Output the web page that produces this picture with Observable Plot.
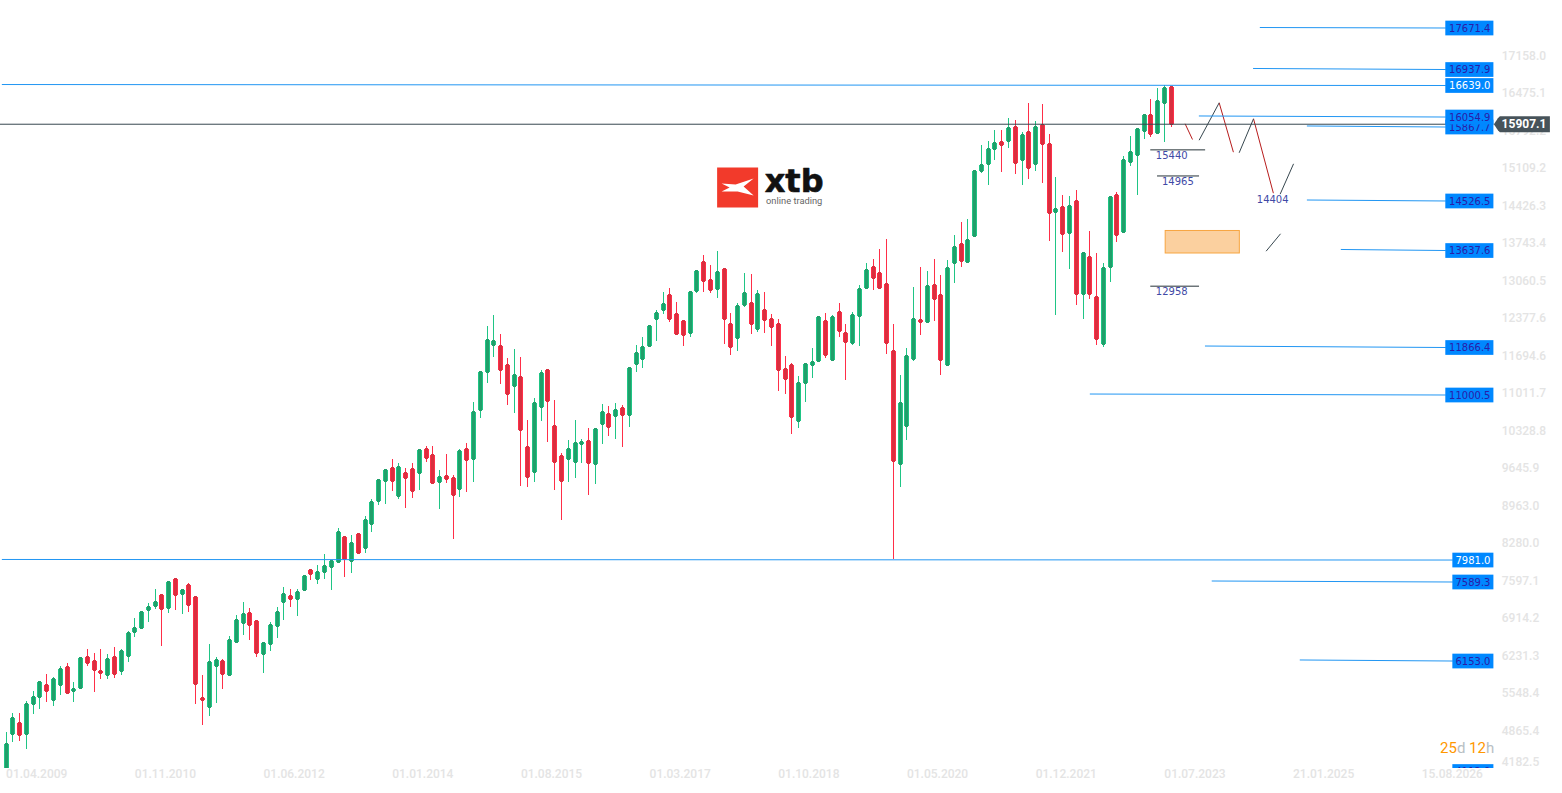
<!DOCTYPE html>
<html>
<head>
<meta charset="utf-8">
<style>
html,body{margin:0;padding:0;background:#fff;overflow:hidden}
svg{display:block}
</style>
<script src="https://cdn.jsdelivr.net/npm/d3@7"></script>
<script src="https://cdn.jsdelivr.net/npm/@observablehq/plot@0.6"></script>
</head>
<body>
<script>
const open = [4085,4800,4988,4800,5334,5462,5680,5407,5680,6008,5571,5625,6190,6117,5935,5862,6190,5935,6208,6645,6718,7046,7119,7319,7082,7610,7337,7501,7283,5443,5279,6026,6117,5862,6463,6809,6991,6846,6245,6427,6755,7191,7301,7246,7410,7774,7610,7738,7829,7920,8375,7938,8430,8175,8612,9031,9395,9632,9122,9541,9613,9541,9978,9868,9377,9486,9450,9249,9978,9795,10688,11380,11871,11853,11507,11125,11289,10014,9559,10742,11416,10396,9850,9795,9741,10069,10123,9704,10433,10615,10579,10724,10597,11526,11617,11854,12345,12509,12782,12436,12309,12090,12855,13383,13055,12892,13256,12254,12000,12600,12637,12163,12509,12345,12254,11435,11508,10488,11180,11508,11580,12309,11599,12473,12090,11908,12400,12910,13292,13183,12983,11762,9705,10397,11617,12327,12290,12964,12782,11513,13365,13711,13383,13856,15040,15167,15441,15568,15586,15841,15240,15750,15167,15878,15532,14293,14384,13911,14494,12800,13474,12745,11890,13292,14603,13929,15204,15331,15768,16060,15732,16278,16569];
const high = [4824,5170,5170,5389,5571,5759,5886,5826,6026,6081,5741,6190,6336,6263,6336,6245,6372,6336,6663,6900,7028,7173,7428,7337,7556,7610,7410,7537,7283,5862,6427,6190,6153,6572,6955,7191,7082,6864,6445,6827,7100,7465,7428,7428,7665,7792,7865,8066,7956,8539,8375,8412,8448,8764,9067,9413,9595,9795,9723,9632,9723,9959,10038,10038,9595,9887,9504,9978,10087,10833,11380,12217,12424,12072,11635,11799,11653,10506,10906,11416,11416,10870,9905,10142,10506,10160,10360,10360,10797,10761,10815,10779,11471,11871,12017,12218,12509,12837,12910,12655,12309,12837,13238,13511,13329,13584,13274,12454,12637,13183,13165,12873,12837,12436,12345,11672,11544,11307,11544,11817,12382,12454,12418,12637,12254,12473,12964,13365,13438,13620,13802,12254,11325,11817,12928,13292,13219,13437,13146,13419,13874,14111,14166,15040,15513,15586,15786,15786,16005,15969,15750,16278,15950,16260,15714,14931,14603,14585,14694,13547,13947,13547,13364,14585,14658,15313,15677,15805,16060,16351,16551,16606,16581];
const low = [3950,4654,4672,4527,5164,5255,5383,5310,5510,5528,5383,5625,6038,5565,5801,5801,5820,5874,6111,6566,6718,6839,7076,6402,7003,7052,6985,7022,5346,4964,5128,5364,5619,5862,6463,6603,6512,6202,5911,6311,6548,6876,7113,6949,7410,7604,7525,7616,7422,7902,7659,7732,8084,8096,8478,8970,8982,9225,9079,8915,9098,9243,9753,9358,8897,9371,8351,9116,9207,9389,10554,11192,11665,11173,10791,10645,9316,9298,9389,10500,10117,9243,8697,9389,9462,9735,9152,9352,10081,10226,10172,10026,10390,11392,11465,11854,11957,12448,12303,12072,11866,12030,12819,12849,12819,12740,11902,11702,11775,12576,12084,12121,12102,11866,11046,10992,10263,10372,10846,11283,11580,11647,11599,12030,11247,11872,11866,12892,12885,12892,11720,7975,9298,10154,11593,12066,12272,12321,11331,11513,13000,13304,13383,13856,15016,14797,15252,15034,15471,14997,14797,14906,15052,14834,13777,12430,13577,13267,12600,12357,12709,11884,11835,13031,13759,13911,15143,14615,15623,15659,15713,15568,15853];
const close = [4606,5079,4782,5334,5462,5735,5571,5789,5971,5546,5607,6172,6081,5953,5899,6153,5880,6299,6627,6718,7009,7100,7191,7064,7556,7319,7410,7137,5698,5407,6099,6135,5880,6500,6864,6973,6773,6263,6445,6773,7009,7337,7246,7374,7665,7701,7738,7847,7938,8466,7975,8266,8084,8685,9013,9413,9595,9395,9650,9450,9213,9959,9814,9358,9468,9431,9140,9941,9777,10651,11380,11962,11944,11416,10979,11325,10324,9468,10815,11362,10852,9741,9395,9978,10087,10105,9723,10342,10651,10378,10688,10597,11453,11726,11835,12218,12454,12618,12345,12072,12054,12837,13219,13037,12873,13201,12345,11835,12582,12819,12254,12800,12327,12200,11417,11253,10561,11180,11526,11562,12382,11690,12382,12127,11926,12418,12892,13238,13092,12910,11908,9759,10816,11671,12345,12290,12946,12709,11604,13274,13656,13401,13783,15040,15149,15441,15550,15513,15823,15186,15695,15094,15841,15532,14275,14348,13893,14403,12800,13547,12800,11981,13274,14566,13874,15240,15386,15805,16060,15714,16314,16551,15907.1];

const yTicks = [17158.0,16475.1,15792.2,15109.2,14426.3,13743.4,13060.5,12377.6,11694.6,11011.7,10328.8,9645.9,8963.0,8280.0,7597.1,6914.2,6231.3,5548.4,4865.4];
const yTickLast = [4182.5];
const xTickBars = [0,19,38,57,76,95,114,133,152,171,190,209];
const xTickLabels = ["01.04.2009","01.11.2010","01.06.2012","01.01.2014","01.08.2015","01.03.2017","01.10.2018","01.05.2020","01.12.2021","01.07.2023","21.01.2025","15.08.2026"];

const levelLabels = ["15867.7","17671.4","16937.9","16639.0","16054.9","14526.5","13637.6","11866.4","11000.5","7981.0","7589.3","6153.0","4112.0"];
const levelStartBar = [192.05,185.1,184.1,-0.63,176.1,192.05,197.06,177,160,-0.63,178,191,null];
const levelStartValue = [15866,17659,16913,16621,16048,14518,13617,11859,10985,7972,7580,6142,null];
const levelEndValue = [15847,17650,16894,16603,16029,14500,13598,11832,10967,7962,7562,6123,4111];
const levelLight = ["16639.0","7981.0"];

const lastPrice = 15907.1;

const markLevels = [15440,14965,12958];
const markStart = [169,170,169];
const markEnd = [177.1,176.2,176.2];
const markTextBar = [172.1,173,172.1];
const pivotBar = [187];
const pivotValue = [14404];

const redLegBar1 = [174.07,179.1,184.17];
const redLegVal1 = [15915,16297,16006];
const redLegBar2 = [175.16,181.2,187.1];
const redLegVal2 = [15629,15398,14651];
const darkLegBar1 = [176.14,182.05,188.1,186.03];
const darkLegVal1 = [15616,15387,14633,13595];
const darkLegBar2 = [179.1,184.17,190.08,188.16];
const darkLegVal2 = [16297,16006,15186,13912];

const zoneBars = [171.2,182.15];
const zoneValues = [13553,13963];

const timerParts = ["25","d","12","h"];
const timerBars = [211.7,214.2,216,218.5];
const timerColors = ["#ff9800","#b8c0c4","#ff9800","#b8c0c4"];

const candles = open.map((o,i)=>({i,o,h:high[i],l:low[i],c:close[i],top:Math.max(o,close[i]),bot:Math.min(o,close[i]),up:close[i]>=o}));
const boxRight = 219.66;
const levels = levelLabels.map((t,i)=>({t,sb:levelStartBar[i],sv:levelStartValue[i],ev:levelEndValue[i],boxL:t.length===7?212.56:213.6}));
const levelLines = levels.filter(d=>d.sb!==null);
const levelUnder = levels.slice(0,1), levelOver = levels.slice(1);
const halfBox = 134;

const polySymbol = pts => ({draw(ctx){pts.forEach((p,k)=>k?ctx.lineTo(p[0],p[1]):ctx.moveTo(p[0],p[1]));ctx.closePath();}});
const badge = polySymbol([[0,0],[4,-6],[6,-8],[56,-8],[56,8],[6,8],[4,6]]);
const logoBox = polySymbol([[-20.5,-20],[20.5,-20],[20.5,20],[-20.5,20]]);
const logoMark = polySymbol([[-16,-4],[-2,-3],[16,-9],[6,-1],[16,8],[0,4],[-16,4],[-8,0]]);

const GREEN_LINE="#1fc585",GREEN_FILL="#209f6a",RED_LINE="#ff2e48",RED_FILL="#d92f3f";
const upColor = d=>d.up?GREEN_LINE:RED_LINE, upFill = d=>d.up?GREEN_FILL:RED_FILL;
const axisStyle = {fill:"#e4e4e4",fontSize:12,fontWeight:500,fontFamily:"Roboto"};
const boxText = {textAnchor:"end",fontFamily:"DejaVu Sans",fontSize:10,clip:true};
const levelFill = d=>levelLight.includes(d.t)?"#fff":"#2a1ca8";

const chart = Plot.plot({
  width:1562,height:793,
  marginTop:0,marginLeft:0,marginRight:60,marginBottom:25,
  style:{background:"#fff",fontFamily:"Roboto"},
  x:{type:"linear",domain:[-0.83,220.93],axis:null},
  y:{type:"linear",domain:[4175,18160],axis:null},
  marks:[
    Plot.axisY({anchor:"right",ticks:yTicks,tickSize:0,tickPadding:0,label:null,tickFormat:d=>d.toFixed(1),dy:0.4,dx:-0.7,...axisStyle}),
    Plot.axisY({anchor:"right",ticks:yTickLast,tickSize:0,tickPadding:0,label:null,tickFormat:d=>d.toFixed(1),dy:-5.5,dx:-0.7,...axisStyle}),
    Plot.axisX({anchor:"bottom",ticks:xTickBars,tickSize:0,tickPadding:1,label:null,textAnchor:"start",tickFormat:d=>xTickLabels[xTickBars.indexOf(d)],...axisStyle}),
    // logo
    Plot.dot([0],{x:()=>108,y:()=>14755,symbol:logoBox,fill:"#f23a2b",r:3}),
    Plot.dot([0],{x:()=>108,y:()=>14755,symbol:logoMark,fill:"#fff",r:3}),
    Plot.text(["xtb"],{x:()=>112,y:()=>14854,textAnchor:"start",fontFamily:"DejaVu Sans",fontWeight:700,fontSize:32,fill:"#111",stroke:"#111",strokeWidth:0.6}),
    Plot.text(["online trading"],{x:()=>112.2,y:()=>14515,textAnchor:"start",fontFamily:"Roboto",fontSize:9.3,fill:"#666"}),
    // candles
    Plot.ruleX(candles,{x:"i",y1:"l",y2:"h",stroke:upColor,strokeWidth:1,clip:true,shapeRendering:"crispEdges"}),
    Plot.ruleX(candles,{x:"i",y1:"bot",y2:"top",stroke:upColor,strokeWidth:5,clip:true,shapeRendering:"crispEdges"}),
    Plot.ruleX(candles,{x:"i",y1:"bot",y2:"top",stroke:upFill,strokeWidth:3,insetTop:1,insetBottom:1,clip:true,shapeRendering:"crispEdges"}),
    // zone
    Plot.rect([0],{x1:()=>zoneBars[0],x2:()=>zoneBars[1],y1:()=>zoneValues[0],y2:()=>zoneValues[1],fill:"#fbd09f",stroke:"#f7a540",strokeWidth:1}),
    // forecast legs
    Plot.link(redLegBar1,{x1:d=>d,y1:(d,i)=>redLegVal1[i],x2:(d,i)=>redLegBar2[i],y2:(d,i)=>redLegVal2[i],stroke:"#b71c1c",strokeWidth:1}),
    Plot.link(darkLegBar1,{x1:d=>d,y1:(d,i)=>darkLegVal1[i],x2:(d,i)=>darkLegBar2[i],y2:(d,i)=>darkLegVal2[i],stroke:"#37474f",strokeWidth:1}),
    // marked levels
    Plot.ruleY(markLevels,{y:d=>d,x1:(d,i)=>markStart[i],x2:(d,i)=>markEnd[i],stroke:"#263238",strokeWidth:1}),
    Plot.text(markLevels,{y:d=>d,x:(d,i)=>markTextBar[i],text:d=>String(d),dy:6,fontFamily:"DejaVu Sans",fontSize:10,fill:"#3f4aa6"}),
    Plot.text(pivotValue,{y:d=>d,x:(d,i)=>pivotBar[i],text:d=>String(d),dy:-6.5,fontFamily:"DejaVu Sans",fontSize:10,fill:"#3f4aa6"}),
    // price line below the level labels
    Plot.ruleY([lastPrice],{x1:-0.83,x2:boxRight,stroke:"#37474f",strokeWidth:1}),
    // level lines and labels
    Plot.link(levelLines,{x1:"sb",y1:"sv",x2:"boxL",y2:"ev",stroke:"#2196f3",strokeWidth:1,dy:-0.5}),
    Plot.rect(levelUnder,{x1:"boxL",x2:()=>boxRight,y1:d=>d.ev-halfBox,y2:d=>d.ev+halfBox,fill:"#0088ff"}),
    Plot.text(levelUnder,{x:()=>219.15,y:"ev",text:"t",fill:levelFill,...boxText}),
    Plot.rect(levelOver,{x1:"boxL",x2:()=>boxRight,y1:d=>d.ev-halfBox,y2:d=>d.ev+halfBox,fill:"#0088ff",clip:true}),
    Plot.text(levelOver,{x:()=>219.15,y:"ev",text:"t",fill:levelFill,...boxText}),
    // price badge
    Plot.dot([lastPrice],{x:()=>boxRight,y:d=>d,symbol:badge,fill:"#47535a",r:3}),
    Plot.text([lastPrice],{x:()=>220.8,y:d=>d,text:d=>d.toFixed(1),textAnchor:"start",fill:"#fff",fontFamily:"Roboto",fontWeight:700,fontSize:12}),
    // countdown
    Plot.text(timerParts,{x:(d,i)=>timerBars[i],y:()=>4539,text:d=>d,textAnchor:"start",fontFamily:"Roboto",fontSize:15,fill:(d,i)=>timerColors[i]})
  ]
});
document.body.appendChild(chart);
</script>
</body>
</html>
